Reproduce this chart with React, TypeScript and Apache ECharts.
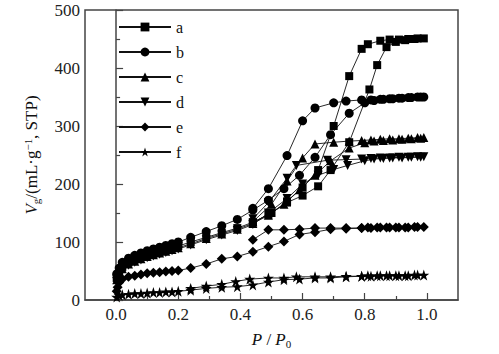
import React, { useEffect, useRef } from "react";
import * as echarts from "echarts";

// Sample a (squares)
const aAds: number[][] = [
  [0.002, 38], [0.01, 48], [0.02, 57], [0.04, 65], [0.06, 70], [0.08, 74], [0.1, 78], [0.12, 81],
  [0.14, 84], [0.16, 87], [0.18, 90], [0.2, 93], [0.24, 100], [0.29, 108], [0.34, 116], [0.39, 124],
  [0.44, 134], [0.49, 147], [0.55, 168], [0.6, 180], [0.65, 196], [0.69, 224], [0.75, 272],
  [0.815, 363], [0.84, 405], [0.87, 436], [0.9, 445], [0.93, 448], [0.96, 450], [0.99, 451],
];
const aDes: number[][] = [
  [0.97, 451], [0.94, 450], [0.91, 449], [0.88, 449], [0.85, 447], [0.81, 441], [0.79, 433],
  [0.75, 386], [0.7, 300], [0.65, 224], [0.6, 194], [0.55, 170], [0.5, 150], [0.44, 134],
];
// Sample b (circles)
const bAds: number[][] = [
  [0.002, 45], [0.01, 55], [0.02, 65], [0.04, 72], [0.06, 77], [0.08, 81], [0.1, 85], [0.12, 88],
  [0.14, 91], [0.16, 94], [0.18, 97], [0.2, 100], [0.24, 108], [0.29, 118], [0.34, 128], [0.39, 139],
  [0.44, 155], [0.49, 172], [0.54, 192], [0.59, 215], [0.64, 246], [0.69, 285], [0.75, 322],
  [0.8, 340], [0.83, 344], [0.86, 346], [0.89, 347], [0.92, 348], [0.95, 349], [0.98, 350], [0.99, 350],
];
const bDes: number[][] = [
  [0.97, 350], [0.94, 349], [0.91, 348], [0.88, 347], [0.85, 346], [0.82, 345], [0.79, 345],
  [0.74, 343], [0.7, 340], [0.64, 331], [0.6, 309], [0.55, 249], [0.49, 192], [0.44, 158],
];
// Sample c (up triangles)
const cAds: number[][] = [
  [0.002, 35], [0.01, 45], [0.02, 54], [0.04, 62], [0.06, 67], [0.08, 71], [0.1, 75], [0.12, 78],
  [0.14, 81], [0.16, 84], [0.18, 87], [0.2, 90], [0.24, 97], [0.29, 106], [0.34, 114], [0.39, 122],
  [0.44, 132], [0.49, 146], [0.54, 165], [0.59, 190], [0.64, 215], [0.69, 240], [0.75, 262],
  [0.8, 271], [0.83, 274], [0.86, 275], [0.89, 276], [0.92, 277], [0.95, 278], [0.98, 279], [0.99, 280],
];
const cDes: number[][] = [
  [0.97, 280], [0.94, 279], [0.91, 278], [0.88, 278], [0.85, 277], [0.82, 276], [0.79, 275],
  [0.75, 274], [0.7, 272], [0.64, 269], [0.6, 245], [0.55, 205], [0.5, 165], [0.44, 135],
];
// Sample d (down triangles)
const dAds: number[][] = [
  [0.002, 32], [0.01, 42], [0.02, 52], [0.04, 60], [0.06, 65], [0.08, 69], [0.1, 73], [0.12, 76],
  [0.14, 79], [0.16, 82], [0.18, 85], [0.2, 88], [0.24, 95], [0.29, 104], [0.34, 112], [0.39, 120],
  [0.44, 130], [0.49, 150], [0.55, 175], [0.6, 200], [0.65, 215], [0.7, 225], [0.745, 232],
  [0.8, 240], [0.83, 243], [0.86, 244], [0.89, 245], [0.92, 245], [0.95, 246], [0.98, 246], [0.99, 247],
];
const dDes: number[][] = [
  [0.97, 247], [0.94, 246], [0.91, 246], [0.88, 245], [0.85, 245], [0.82, 244], [0.79, 243],
  [0.74, 242], [0.68, 241], [0.58, 232], [0.55, 210], [0.49, 168], [0.44, 140],
];
// Sample e (diamonds)
const eAds: number[][] = [
  [0.002, 15], [0.005, 22], [0.01, 30], [0.02, 36], [0.04, 40], [0.06, 42], [0.08, 44], [0.1, 46],
  [0.12, 47], [0.14, 48], [0.16, 49], [0.18, 50], [0.2, 51], [0.24, 55], [0.29, 62], [0.34, 71],
  [0.39, 75], [0.44, 83], [0.49, 92], [0.54, 101], [0.59, 113], [0.64, 117], [0.69, 122], [0.74, 123],
  [0.79, 124], [0.82, 124], [0.85, 125], [0.88, 125], [0.91, 125], [0.94, 125], [0.97, 126], [0.99, 126],
];
const eDes: number[][] = [
  [0.96, 126], [0.93, 125], [0.9, 125], [0.87, 125], [0.84, 125], [0.81, 125], [0.79, 124],
  [0.74, 124], [0.69, 124], [0.64, 124], [0.59, 122], [0.54, 121], [0.49, 121], [0.44, 104],
];
// Sample f (stars)
const fAds: number[][] = [
  [0.002, 5], [0.01, 8], [0.02, 9], [0.04, 10], [0.06, 11], [0.08, 11], [0.1, 12], [0.12, 13],
  [0.14, 13], [0.16, 14], [0.18, 14], [0.2, 15], [0.24, 17], [0.29, 20], [0.34, 22], [0.39, 23],
  [0.44, 26], [0.49, 31], [0.54, 35], [0.59, 36], [0.64, 38], [0.69, 38], [0.74, 40], [0.79, 41],
  [0.82, 41], [0.85, 42], [0.88, 42], [0.91, 42], [0.94, 42], [0.97, 43], [0.99, 43],
];
const fDes: number[][] = [
  [0.96, 43], [0.93, 42], [0.9, 42], [0.87, 42], [0.84, 42], [0.81, 42], [0.79, 41], [0.74, 41],
  [0.69, 40], [0.64, 40], [0.58, 40], [0.54, 38], [0.49, 38], [0.43, 36], [0.385, 32], [0.34, 27],
  [0.29, 24], [0.24, 20],
];

const seriesNames = ["a", "b", "c", "d", "e", "f"];
const xMajorTicks = [0, 0.2, 0.4, 0.6, 0.8, 1.0];
const xMinorTicks = [0.1, 0.3, 0.5, 0.7, 0.9];

const STAR =
  "path://M50,0 L61.8,35.1 L98.9,35.1 L68.9,56.9 L80.3,91.9 L50,70.2 L19.7,91.9 L31.1,56.9 L1.1,35.1 L38.2,35.1 Z";

const FONT = "Liberation Serif";

export default function App() {
  const ref = useRef<HTMLDivElement>(null);
  useEffect(() => {
    if (!ref.current) return;
    const chart = echarts.init(ref.current, undefined, { renderer: "svg" });
    const datasets = [
      [...aAds, ...aDes],
      [...bAds, ...bDes],
      [...cAds, ...cDes],
      [...dAds, ...dDes],
      [...eAds, ...eDes],
      [...fAds, ...fDes],
    ];
    const symbols = ["rect", "circle", "triangle", "triangle", "diamond", STAR];
    const sizes = [8, 9, 9, 9, 10, 11];
    const rotates = [0, 0, 0, 180, 0, 0];
    const series = datasets.map((d, i) => ({
      name: seriesNames[i],
      type: "line",
      data: d,
      symbol: symbols[i],
      symbolSize: sizes[i],
      symbolRotate: rotates[i],
      showAllSymbol: true,
      lineStyle: { color: "#111", width: 0.9 },
      itemStyle: { color: "#000" },
      z: 2,
    }));
    const rich = {
      i: { fontStyle: "italic", fontFamily: FONT, fontSize: 17, color: "#111" },
      sub: { fontFamily: FONT, fontSize: 11, color: "#111", verticalAlign: "bottom", padding: [8, 0, 0, 0] },
      sup: { fontFamily: FONT, fontSize: 11, color: "#111", verticalAlign: "top", padding: [0, 0, 8, 0] },
      n: { fontFamily: FONT, fontSize: 17, color: "#111" },
    };
    chart.setOption({
      animation: false,
      backgroundColor: "#fff",
      textStyle: { fontFamily: FONT },
      grid: {
        left: 85,
        right: 41,
        top: 10,
        bottom: 45,
        show: true,
        borderColor: "#444",
        borderWidth: 1.5,
      },
      legend: {
        orient: "vertical",
        left: 113,
        top: 14,
        itemWidth: 52,
        itemHeight: 11,
        itemGap: 9,
        data: seriesNames,
        textStyle: { fontFamily: FONT, fontSize: 16, color: "#111", lineHeight: 16 },
      },
      xAxis: [
        {
          type: "value",
          min: -0.1,
          max: 1.1,
          name: "{i|P}{n| / }{i|P}{sub|0}",
          nameLocation: "middle",
          nameGap: 30,
          nameTextStyle: { rich, fontFamily: FONT },
          axisLine: { show: true, lineStyle: { color: "#444", width: 1.5 } },
          axisTick: { show: true, inside: true, length: 7, customValues: xMajorTicks, lineStyle: { color: "#444", width: 1.2 } },
          axisLabel: {
            customValues: xMajorTicks,
            formatter: (v: number) => v.toFixed(1),
            fontFamily: FONT,
            fontSize: 17,
            color: "#222",
            margin: 6,
          },
          splitLine: { show: false },
        },
        {
          type: "value",
          min: -0.1,
          max: 1.1,
          position: "bottom",
          axisLine: { show: false },
          axisTick: { show: true, inside: true, length: 4, customValues: xMinorTicks, lineStyle: { color: "#444", width: 1.2 } },
          axisLabel: { show: false },
          splitLine: { show: false },
        },
      ],
      yAxis: {
        type: "value",
        min: 0,
        max: 500,
        interval: 100,
        name: "{i|V}{sub|g}{n|/(mL·g}{sup|−1}{n|, STP)}",
        nameLocation: "middle",
        nameGap: 44,
        nameRotate: 90,
        nameTextStyle: { rich, fontFamily: FONT },
        axisLine: { show: true, lineStyle: { color: "#444", width: 1.5 } },
        axisTick: { show: true, inside: true, length: 7, lineStyle: { color: "#444", width: 1.2 } },
        minorTick: { show: true, splitNumber: 2, length: 4, lineStyle: { color: "#444", width: 1.2 } },
        axisLabel: { fontFamily: FONT, fontSize: 17, color: "#222", margin: 5 },
        splitLine: { show: false },
        minorSplitLine: { show: false },
      },
      series,
    });
    return () => chart.dispose();
  }, []);
  return (
    <div
      ref={ref}
      style={{ position: "absolute", left: 0, top: 0, width: 499, height: 354 }}
    />
  );
}
